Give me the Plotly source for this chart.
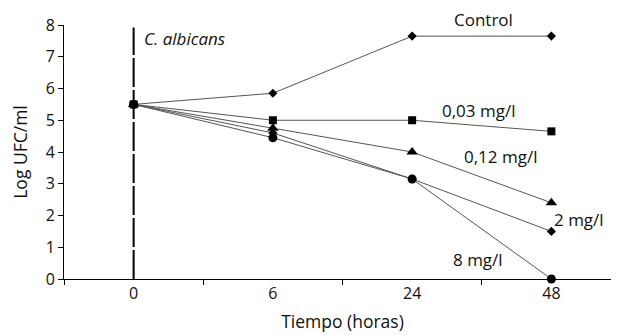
import plotly.graph_objects as go

categories = ["0", "6", "24", "48"]
control = [5.5, 5.85, 7.65, 7.65]
c003 = [5.5, 5.0, 5.0, 4.65]
c012 = [5.5, 4.75, 4.0, 2.4]
c2 = [5.5, 4.6, 3.15, 1.5]
c8 = [5.5, 4.45, 3.15, 0.0]

series = [
    ("Control", control, "diamond", 7),
    ("0,03 mg/l", c003, "square", 8),
    ("0,12 mg/l", c012, "triangle-up", 10),
    ("2 mg/l", c2, "diamond", 7),
    ("8 mg/l", c8, "circle", 9),
]

fig = go.Figure()
for name, vals, sym, size in series:
    fig.add_trace(go.Scatter(
        x=categories, y=vals, mode="lines+markers", name=name,
        line=dict(color="#555", width=1),
        marker=dict(symbol=sym, size=size, color="black"),
        cliponaxis=False, showlegend=False))

fig.add_shape(type="line", xref="x", yref="y", x0=0, x1=0, y0=0, y1=7.92,
              line=dict(color="black", width=2, dash="29px,3px"), layer="below")

font = "Open Sans, Lato, sans-serif"
ymax = 8.0
ann = [
    ("<i>C. albicans</i>", 0.06, 7.59, "left"),
    ("Control", 2.51, 8.16, "center"),
    ("0,03 mg/l", 2.48, 5.32, "center"),
    ("0,12 mg/l", 2.635, 3.87, "center"),
    ("2 mg/l", 3.197, 1.86, "center"),
    ("8 mg/l", 2.47, 0.6, "center"),
]
for text, x, y, align in ann:
    fig.add_annotation(x=x, y=y / ymax, xref="x", yref="paper", text=text, showarrow=False,
                       xanchor="left" if align == "left" else "center", yanchor="middle",
                       font=dict(size=17, color="#111", family=font))

fig.update_layout(
    width=613, height=327,
    margin=dict(l=56, r=0, t=17, b=56),
    plot_bgcolor="white", paper_bgcolor="white",
    font=dict(family=font, size=15, color="#111"),
)
fig.update_xaxes(type="category", range=[-0.5, 3.5], tickson="boundaries",
                 ticks="outside", ticklen=5, tickcolor="black",
                 showline=True, linecolor="black", linewidth=1, showgrid=False,
                 automargin=False,
                 title=dict(text="Tiempo (horas)", standoff=12, font=dict(size=17.5)),
                 tickfont=dict(size=16))
fig.update_yaxes(range=[0, ymax], dtick=1, ticks="outside", ticklen=5, tickcolor="black",
                 showline=True, linecolor="black", linewidth=1, showgrid=False,
                 zeroline=False, automargin=False,
                 title=dict(text="Log UFC/ml", standoff=16, font=dict(size=17.5)),
                 tickfont=dict(size=16))

fig.write_html("out.html")
